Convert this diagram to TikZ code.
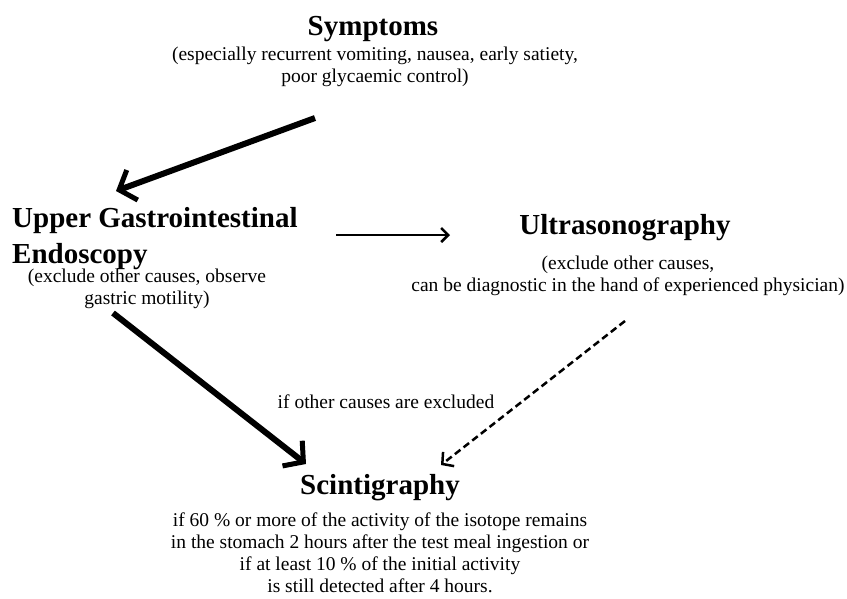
\documentclass[tikz,border=0pt]{standalone}
\usepackage{fontspec}
\setmainfont{Liberation Serif}
\usetikzlibrary{arrows.meta}
\begin{document}
\begin{tikzpicture}[x=1pt,y=-1pt,
  title/.style={font=\fontsize{29}{32}\selectfont\bfseries, inner sep=0pt},
  body/.style={font=\fontsize{19.5}{22.5}\selectfont, align=center, inner sep=0pt},
  thickarrow/.style={line width=6pt, -{Straight Barb[length=14pt,width=32pt,line width=5pt]}},
  thinarrow/.style={line width=2.5pt, -{Straight Barb[length=7pt,width=14pt,line width=2.5pt]}},
  dasharrow/.style={line width=2.5pt, dash pattern=on 7pt off 4pt, -{Straight Barb[length=8pt,width=18pt,line width=2.5pt]}}]
\useasboundingbox[fill=white] (0,0) rectangle (847,598);
\node[title, anchor=base] (sym) at (373,35) {Symptoms};
\node[body] (symtxt) at (375,67) {(especially recurrent vomiting, nausea, early satiety,\\poor glycaemic control)};
\node[title, anchor=base west] (ugi) at (12,227) {Upper Gastrointestinal};
\node[title, anchor=base west] (endo) at (12,263) {Endoscopy};
\node[body] (endotxt) at (147,289) {(exclude other causes, observe\\gastric motility)};
\node[title, anchor=base] (us) at (625,234) {Ultrasonography};
\node[body] (ustxt) at (628,276) {(exclude other causes,\\can be diagnostic in the hand of experienced physician)};
\node[body] (cond) at (386,402) {if other causes are excluded};
\node[title, anchor=base] (sci) at (380,494) {Scintigraphy};
\node[body, font=\fontsize{19.5}{22}\selectfont] (scitxt) at (380,553) {if 60 \% or more of the activity of the isotope remains\\in the stomach 2 hours after the test meal ingestion or\\if at least 10 \% of the initial activity\\is still detected after 4 hours.};
\coordinate (a1s) at (315,118);
\coordinate (a1e) at (116,191);
\coordinate (a2s) at (336,235);
\coordinate (a2e) at (450,235);
\coordinate (a3s) at (113,313);
\coordinate (a3e) at (306,464);
\coordinate (a4s) at (625,321);
\coordinate (a4e) at (441,465);
\draw[thickarrow] (a1s) -- (a1e);
\draw[thinarrow] (a2s) -- (a2e);
\draw[thickarrow] (a3s) -- (a3e);
\draw[dasharrow] (a4s) -- (a4e);
\end{tikzpicture}
\end{document}
